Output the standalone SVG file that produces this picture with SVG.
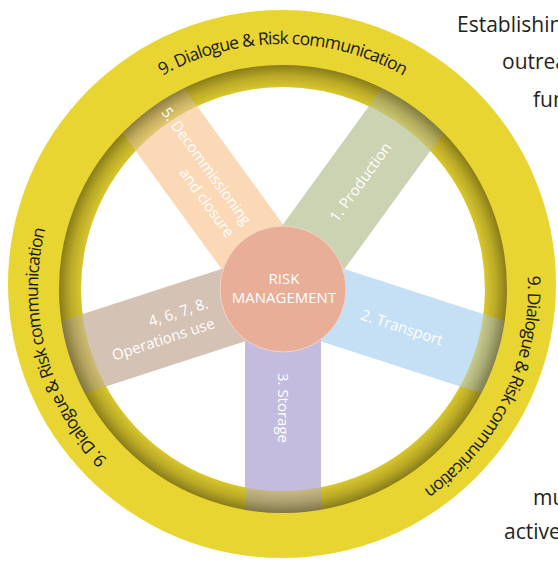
<svg xmlns="http://www.w3.org/2000/svg" width="558" height="562" viewBox="0 0 558 562">
  <style>
    .arc { font-family: "Open Sans", "Noto Sans", "Liberation Sans", sans-serif; font-size: 17.5px; fill: #1a1a1a; }
    .lbl { font-family: "Open Sans", "Noto Sans", "Liberation Sans", sans-serif; font-size: 15px; fill: #ffffff; }
    .para { font-family: "Open Sans", "Noto Sans", "Liberation Sans", sans-serif; font-size: 21px; fill: #231f20; }
  </style>
  <defs>
    <clipPath id="spokeClip"><circle cx="283" cy="289" r="224"/></clipPath>
    <radialGradient id="bandShade" gradientUnits="userSpaceOnUse" cx="283" cy="289" r="224">
      <stop offset="0.9" stop-color="#2a2400" stop-opacity="0.08"/>
      <stop offset="0.95" stop-color="#2a2400" stop-opacity="0.24"/>
      <stop offset="1" stop-color="#2a2400" stop-opacity="0.5"/>
    </radialGradient>
    <path id="arcTop" d="M142.5,88.3 A245,245 0 0,1 423.5,88.3"/>
    <path id="arcRight" d="M525,250.7 A245,245 0 0,1 401.8,503.3"/>
    <path id="arcLeft" d="M125.5,476.7 A245,245 0 0,1 52.8,205.2"/>
  </defs>

  <g id="ring">
    <circle cx="282" cy="284" r="274" fill="#e8d532"/>
    <circle cx="283" cy="289" r="202" fill="#ffffff"/>
  </g>

  <g id="spokes" clip-path="url(#spokeClip)">
    <g id="spoke-decommissioning"><rect x="0" y="-38" width="240" height="76" fill="#fcd9b6" transform="translate(283,289) rotate(-126)"/></g>
    <g id="spoke-production"><rect x="0" y="-38" width="240" height="76" fill="#ccd3b3" transform="translate(283,289) rotate(-54)"/></g>
    <g id="spoke-transport"><rect x="0" y="-38" width="240" height="76" fill="#c5e0f4" transform="translate(283,289) rotate(18)"/></g>
    <g id="spoke-storage"><rect x="0" y="-38" width="240" height="76" fill="#c3bcde" transform="translate(283,289) rotate(90)"/></g>
    <g id="spoke-operations"><rect x="0" y="-38" width="240" height="76" fill="#d4c2b4" transform="translate(283,289) rotate(162)"/></g>
  </g>

  <g id="band">
    <circle cx="283" cy="289" r="213" fill="none" stroke="#e8d532" stroke-opacity="0.45" stroke-width="22"/>
    <circle cx="283" cy="289" r="213" fill="none" stroke="url(#bandShade)" stroke-width="22"/>
  </g>

  <g id="dialogue-top"><text class="arc"><textPath href="#arcTop" startOffset="50%" text-anchor="middle" textLength="252" lengthAdjust="spacing">9. Dialogue &amp; Risk communication</textPath></text></g>
  <g id="dialogue-right"><text class="arc"><textPath href="#arcRight" startOffset="50%" text-anchor="middle" textLength="248" lengthAdjust="spacing">9. Dialogue &amp; Risk communication</textPath></text></g>
  <g id="dialogue-left"><text class="arc"><textPath href="#arcLeft" startOffset="50%" text-anchor="middle" textLength="250" lengthAdjust="spacing">9. Dialogue &amp; Risk communication</textPath></text></g>

  <g id="label-production"><text class="lbl" transform="translate(283,289) rotate(-54)" x="132" y="5" text-anchor="middle">1. Production</text></g>
  <g id="label-transport"><text class="lbl" transform="translate(283,289) rotate(18)" x="125" y="5" text-anchor="middle">2. Transport</text></g>
  <g id="label-storage"><text class="lbl" transform="translate(283,289) rotate(90)" x="119" y="5" text-anchor="middle">3. Storage</text></g>
  <g id="label-operations"><text class="lbl" transform="translate(283,289) rotate(-18)" text-anchor="end"><tspan x="-76" y="-5">4, 6, 7, 8.</tspan><tspan x="-76" y="16">Operations use</tspan></text></g>
  <g id="label-decommissioning"><text class="lbl" transform="translate(283,289) rotate(54)" text-anchor="end"><tspan x="-74" y="-5">5. Decommissioning</tspan><tspan x="-74" y="16">and closure</tspan></text></g>

  <g id="risk-management">
    <circle cx="283" cy="289" r="63" fill="#e8ae98" stroke="#f4d3c6" stroke-width="1"/>
    <text class="lbl" x="284" y="284" text-anchor="middle">RISK</text>
    <text class="lbl" x="284" y="303" text-anchor="middle">MANAGEMENT</text>
  </g>

  <g id="side-text">
    <text class="para" x="457" y="31.5">Establishin</text>
    <text class="para" x="502" y="68.5">outrea</text>
    <text class="para" x="533" y="106.5">fun</text>
    <text class="para" x="533" y="505">mu</text>
    <text class="para" x="504" y="539">active</text>
  </g>
</svg>
